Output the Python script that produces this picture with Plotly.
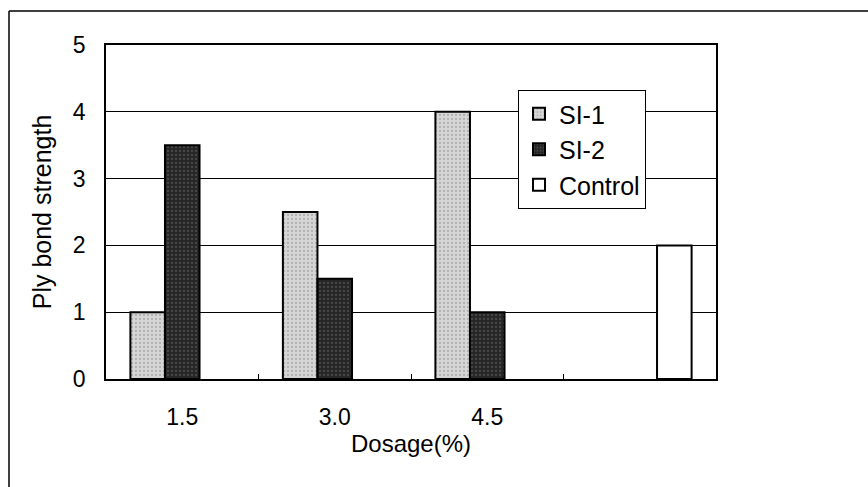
import plotly.graph_objects as go

categories = ["1.5", "3.0", "4.5", " "]
si1 = [1.0, 2.5, 4.0, None]
si2 = [3.5, 1.5, 1.0, None]
control = [None, None, None, 2.0]
y_ticks = [0, 1, 2, 3, 4, 5]

FONT = "Liberation Sans, Arial, sans-serif"

fig = go.Figure()
fig.add_trace(go.Bar(
    x=categories, y=si1, name="SI-1",
    marker=dict(color="#d2d2d2", line=dict(color="black", width=2),
                pattern=dict(shape=".", fgcolor="#8a8a8a", bgcolor="#d6d6d6", size=4, solidity=0.25)),
))
fig.add_trace(go.Bar(
    x=categories, y=si2, name="SI-2",
    marker=dict(color="#2e2e2e", line=dict(color="black", width=2),
                pattern=dict(shape=".", fgcolor="#6a6a6a", bgcolor="#262626", size=4, solidity=0.25)),
))
fig.add_trace(go.Bar(
    x=categories, y=control, name="Control",
    marker=dict(color="white", line=dict(color="black", width=2)),
))

W, H = 868, 487
ml, mr, mt, mb = 106, 152, 45, 108
pw, ph = W - ml - mr, H - mt - mb

def px_to_paper_x(px):
    return (px - ml) / pw

def px_to_paper_y(py):
    return (H - mb - py) / ph

# outer frame (top and left edges)
fig.add_shape(type="line", xref="paper", yref="paper",
              x0=px_to_paper_x(9), x1=px_to_paper_x(870),
              y0=px_to_paper_y(11), y1=px_to_paper_y(11),
              line=dict(color="black", width=1.5))
fig.add_shape(type="line", xref="paper", yref="paper",
              x0=px_to_paper_x(9), x1=px_to_paper_x(9),
              y0=px_to_paper_y(11), y1=px_to_paper_y(490),
              line=dict(color="black", width=1.5))

fig.update_layout(
    width=W, height=H,
    margin=dict(l=ml, r=mr, t=mt, b=mb),
    paper_bgcolor="white", plot_bgcolor="white",
    barmode="group", bargap=0.32, bargroupgap=0,
    font=dict(family=FONT, size=24, color="black"),
    showlegend=True,
    legend=dict(
        x=px_to_paper_x(518), y=px_to_paper_y(90),
        xanchor="left", yanchor="top",
        bgcolor="white", bordercolor="black", borderwidth=1,
        font=dict(family=FONT, size=25, color="black"),
        itemwidth=30,
    ),
    xaxis=dict(
        categoryorder="array", categoryarray=categories,
        showline=True, linecolor="black", linewidth=1.5, mirror=True,
        ticks="inside", tickson="boundaries", ticklen=5, tickcolor="black",
        ticklabelstandoff=17,
        tickfont=dict(family=FONT, size=23),
        title=dict(text="Dosage(%)", font=dict(family=FONT, size=24), standoff=6),
        showgrid=False,
    ),
    yaxis=dict(
        range=[0, 5], tickvals=y_ticks,
        showline=True, linecolor="black", linewidth=1.5, mirror=True,
        ticks="", ticklabelstandoff=14,
        tickfont=dict(family=FONT, size=23),
        showgrid=True, gridcolor="black", gridwidth=1,
        zeroline=False,
        title=dict(text="Ply bond strength", font=dict(family=FONT, size=25), standoff=14),
    ),
)

fig.write_html("out.html")
